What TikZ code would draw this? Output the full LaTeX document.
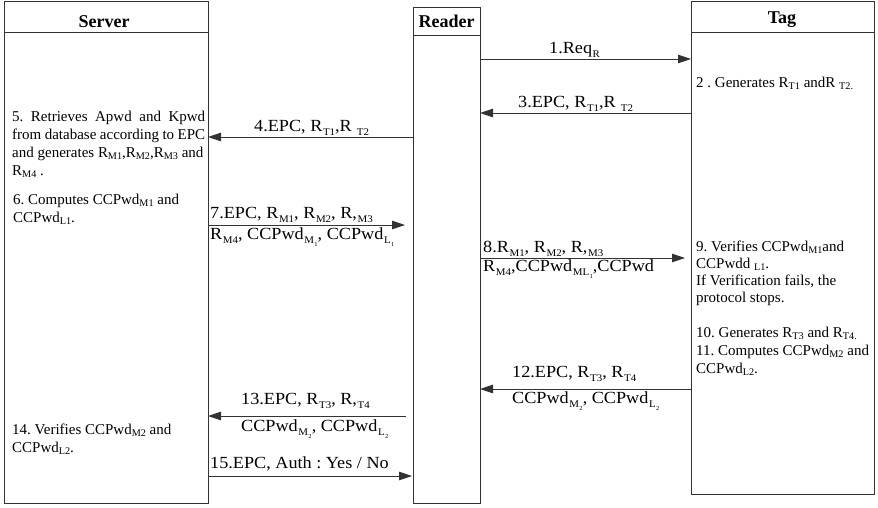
\documentclass[tikz,border=0pt]{standalone}
\usepackage{fontspec}
\setmainfont{Liberation Serif}
\newfontfamily\lblfont[FakeStretch=1.07]{Liberation Serif}
\usetikzlibrary{arrows.meta}
\newcommand\bsub[1]{\raisebox{-0.3ex}{\scalebox{0.68}{#1}}}
\newcommand\lsub[1]{\kern0.6pt\raisebox{-0.6ex}{\scalebox{0.6}{#1}}}
\newcommand\jline[1]{\makebox[193pt][s]{#1}}
\frenchspacing
\begin{document}
\begin{tikzpicture}[x=1pt,y=-1pt,
  box/.style={draw=black!80, line width=0.9pt, inner sep=0pt, outer sep=0pt, anchor=north west},
  sep/.style={draw=black!80, line width=0.9pt},
  hdr/.style={font=\fontsize{18}{20}\selectfont\bfseries, anchor=base, inner sep=0pt},
  txt/.style={font=\fontsize{15}{18}\selectfont\frenchspacing, anchor=base west, align=left, inner sep=0pt},
  lbl/.style={font=\fontsize{17}{20}\selectfont\lblfont, anchor=base west, inner sep=0pt},
  arr/.style={draw=black!80, line width=0.9pt, -{Triangle[length=13pt,width=8.5pt]}}]
\useasboundingbox (0,0) rectangle (878,507);
% lifeline boxes
\node[box, minimum width=204pt, minimum height=502pt] (server) at (4,1) {};
\node[box, minimum width=67pt, minimum height=496pt] (reader) at (413,7) {};
\node[box, minimum width=183pt, minimum height=493pt] (tag) at (691,1) {};
\draw[sep] (server.west |- 0,32) -- (server.east |- 0,32);
\draw[sep] (reader.west |- 0,35) -- (reader.east |- 0,35);
\draw[sep] (tag.west |- 0,32) -- (tag.east |- 0,32);
\node[hdr] (hs) at (104,27) {Server};
\node[hdr] (hr) at (446.5,27) {Reader};
\node[hdr] (ht) at (782,23) {Tag};
% messages
\draw[arr] (reader.east |- 0,59) -- (tag.west |- 0,59);
\draw[arr] (tag.west |- 0,113) -- (reader.east |- 0,113);
\draw[arr] (reader.west |- 0,137) -- (server.east |- 0,137);
\draw[arr, shorten >=8pt] (server.east |- 0,225) -- (reader.west |- 0,225);
\draw[arr, shorten >=6pt] (reader.east |- 0,258) -- (tag.west |- 0,258);
\draw[arr] (tag.west |- 0,389) -- (reader.east |- 0,389);
\draw[arr, shorten <=7pt] (reader.west |- 0,416) -- (server.east |- 0,416);
\draw[arr, shorten >=1pt] (server.east |- 0,476) -- (reader.west |- 0,476);
% message labels
\node[lbl] (l1) at (549,53) {1.Req\lsub{R}};
\node[lbl] (l3) at (518,107) {3.EPC, R\lsub{T1},R \lsub{T2}};
\node[lbl] (l4) at (254,131) {4.EPC, R\lsub{T1},R \lsub{T2}};
\node[lbl] (l7a) at (210,218) {7.EPC, R\lsub{M1}, R\lsub{M2}, R,\lsub{M3}};
\node[lbl] (l7b) at (210,239) {R\lsub{M4}, CCPwd\lsub{M\lsub{1}}, CCPwd\lsub{L\lsub{1}}};
\node[lbl] (l8a) at (483,252) {8.R\lsub{M1}, R\lsub{M2}, R,\lsub{M3}};
\node[lbl] (l8b) at (483,271) {R\lsub{M4},CCPwd\lsub{ML\lsub{1}},CCPwd};
\node[lbl] (l12a) at (512,377) {12.EPC, R\lsub{T3}, R\lsub{T4}};
\node[lbl] (l12b) at (512,403) {CCPwd\lsub{M\lsub{2}}, CCPwd\lsub{L\lsub{2}}};
\node[lbl] (l13a) at (241,404) {13.EPC, R\lsub{T3}, R,\lsub{T4}};
\node[lbl] (l13b) at (241,431) {CCPwd\lsub{M\lsub{2}}, CCPwd\lsub{L\lsub{2}}};
\node[lbl] (l15) at (210,468) {15.EPC, Auth : Yes / No};
% activity texts (anchored at the baseline of the last line)
\node[txt] (t5) at (12,175) {\jline{5. Retrieves Apwd and Kpwd}\\\jline{from database according to EPC}\\and generates R\bsub{M1},R\bsub{M2},R\bsub{M3} and\\R\bsub{M4} .};
\node[txt] (t6) at (13,222) {6. Computes CCPwd\bsub{M1} and\\CCPwd\bsub{L1}.};
\node[txt] (t14) at (12,452) {14. Verifies CCPwd\bsub{M2} and\\CCPwd\bsub{L2}.};
\node[txt] (t2) at (696,87) {2 . Generates R\bsub{T1} andR \bsub{T2.}};
\node[txt, font=\fontsize{15}{17}\selectfont] (t9) at (696,302) {9. Verifies CCPwd\bsub{M1}and\\CCPwdd \bsub{L1}.\\If Verification fails, the\\protocol stops.};
\node[txt] (t10) at (696,373) {10. Generates R\bsub{T3} and R\bsub{T4.}\\11. Computes CCPwd\bsub{M2} and\\CCPwd\bsub{L2}.};
\end{tikzpicture}
\end{document}
